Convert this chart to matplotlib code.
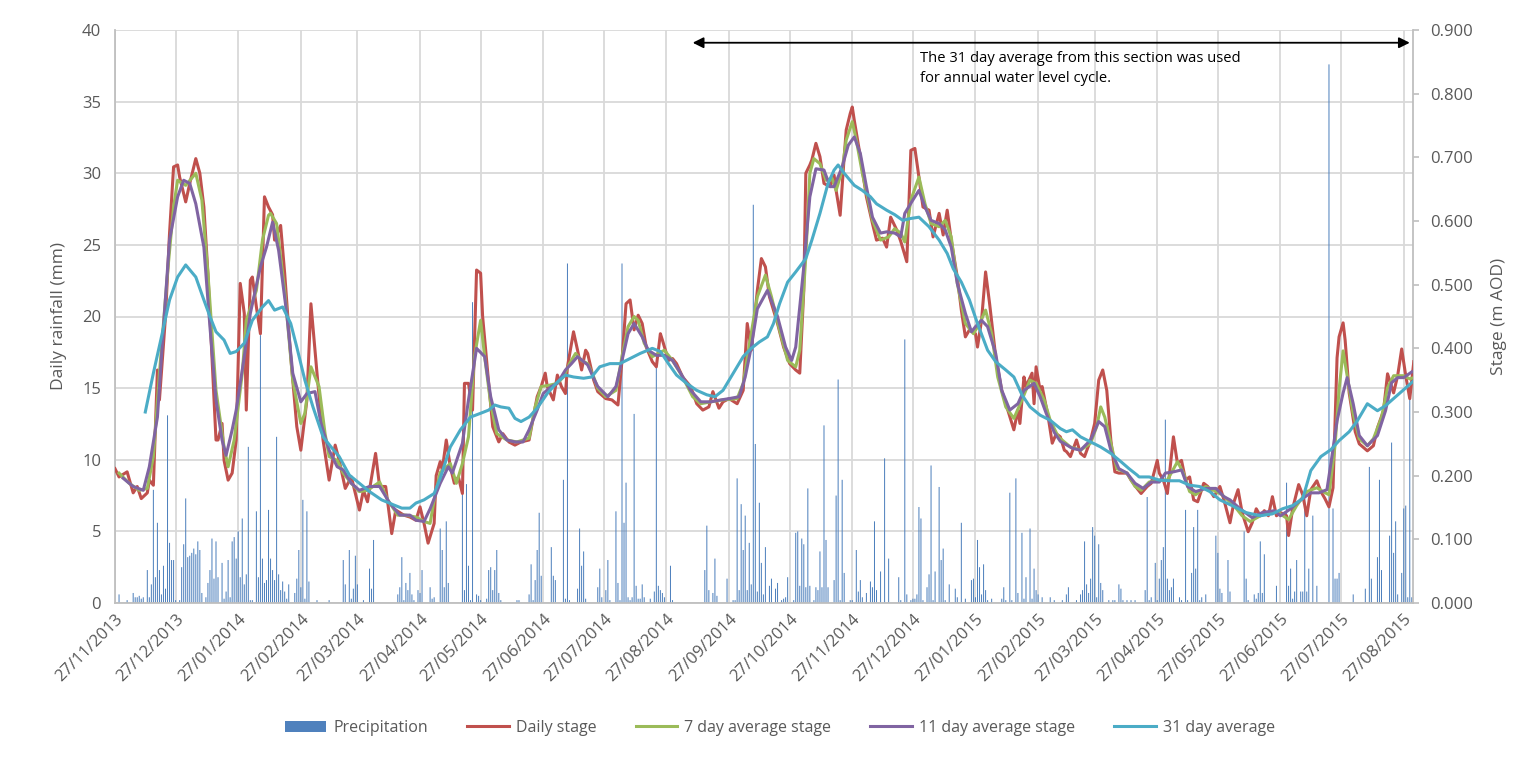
import pandas as pd
import matplotlib
matplotlib.use("Agg")
import matplotlib.pyplot as plt
import matplotlib.dates as mdates
from matplotlib.ticker import MultipleLocator, FormatStrFormatter
from matplotlib.patches import Patch
from matplotlib.lines import Line2D

plt.rcParams['font.family'] = ['Open Sans', 'DejaVu Sans']

start = pd.Timestamp("2013-11-27")

# daily rainfall: day number counted from 27/11/2013, rainfall in mm
rain_day = [2, 6, 9, 10, 11, 12, 13, 14, 16, 17, 18, 19, 20, 21, 22, 23, 24, 25, 26, 27, 28, 29, 30, 32, 33, 34,
            35, 36, 37, 38, 39, 40, 41, 42, 43, 45, 46, 47, 48, 49, 50, 51, 53, 54, 55, 56, 57, 58, 59, 60, 61, 62,
            63, 64, 65, 66, 67, 68, 70, 71, 72, 73, 74, 75, 76, 77, 78, 79, 80, 81, 82, 83, 84, 85, 86, 89, 90, 91,
            92, 93, 94, 95, 96, 100, 106, 113, 114, 116, 117, 118, 119, 120, 123, 126, 127, 128, 140, 141, 142, 143,
            144, 145, 146, 147, 148, 150, 151, 152, 156, 157, 158, 161, 162, 163, 164, 165, 172, 173, 174, 175, 176,
            177, 179, 180, 181, 184, 185, 186, 187, 188, 189, 190, 191, 199, 200, 205, 206, 207, 208, 209, 210, 211,
            216, 217, 218, 222, 223, 224, 225, 229, 230, 231, 232, 233, 239, 240, 241, 243, 244, 245, 248, 249, 250,
            251, 252, 253, 254, 255, 256, 257, 258, 259, 260, 261, 262, 265, 267, 268, 269, 270, 271, 272, 275, 276,
            292, 293, 294, 296, 297, 298, 303, 306, 307, 308, 309, 310, 311, 312, 313, 314, 315, 316, 317, 318, 319,
            320, 321, 322, 324, 325, 327, 328, 330, 331, 332, 333, 336, 337, 338, 339, 340, 341, 342, 343, 344, 346,
            347, 348, 349, 350, 351, 352, 353, 356, 357, 358, 359, 360, 361, 364, 365, 367, 368, 369, 370, 372, 374,
            375, 376, 377, 379, 381, 383, 388, 389, 391, 392, 394, 395, 396, 397, 398, 399, 400, 402, 403, 404, 405,
            406, 408, 409, 410, 411, 413, 416, 417, 419, 421, 424, 425, 426, 427, 428, 429, 430, 431, 432, 434, 439,
            440, 441, 443, 444, 446, 447, 449, 450, 451, 453, 454, 455, 456, 457, 459, 463, 465, 469, 471, 472, 476,
            478, 479, 480, 481, 482, 483, 484, 485, 486, 487, 488, 489, 492, 494, 495, 497, 498, 499, 501, 503, 505,
            510, 511, 512, 513, 515, 516, 517, 518, 519, 520, 521, 522, 523, 524, 527, 528, 530, 531, 533, 534, 535,
            536, 537, 538, 540, 545, 546, 547, 548, 551, 552, 559, 560, 561, 564, 565, 566, 567, 568, 569, 575, 580,
            581, 582, 583, 584, 585, 587, 588, 589, 590, 591, 593, 595, 601, 603, 604, 605, 606, 613, 619, 621, 622,
            625, 626, 627, 631, 632, 633, 634, 635, 637, 638, 639, 640, 641, 642]
rain_mm = [0.6, 0.2, 0.7, 0.4, 0.4, 0.5, 0.3, 0.4, 2.3, 0.4, 1.3, 7.9, 1.8, 5.6, 2.3, 0.6, 2.6, 1.0, 13.1, 4.2, 3.0,
           3.0, 0.2, 0.2, 2.5, 4.1, 7.3, 3.2, 3.3, 3.5, 3.8, 3.4, 4.3, 3.7, 0.7, 0.4, 1.4, 2.3, 4.5, 1.7, 4.3, 1.8,
           2.8, 0.3, 0.8, 3.0, 0.4, 4.3, 4.6, 3.1, 5.0, 1.8, 5.9, 1.3, 2.0, 10.9, 0.2, 0.2, 6.4, 1.8, 18.7, 3.1, 1.4,
           1.6, 6.5, 3.1, 2.3, 1.6, 11.6, 2.0, 0.9, 1.5, 0.8, 0.3, 1.3, 0.7, 1.7, 3.7, 1.1, 7.2, 0.3, 6.4, 1.5, 0.2,
           0.2, 3.0, 1.3, 3.7, 0.3, 1.0, 3.3, 1.3, 0.2, 2.4, 1.0, 4.4, 0.6, 1.1, 3.2, 0.2, 1.4, 0.9, 2.1, 0.6, 0.2,
           0.9, 0.7, 2.3, 1.1, 0.3, 0.4, 5.2, 3.7, 1.1, 5.7, 1.4, 7.7, 0.9, 8.3, 2.6, 0.2, 21.0, 0.6, 0.5, 0.2, 0.3,
           2.3, 2.5, 0.9, 2.3, 3.7, 0.7, 0.2, 0.2, 0.2, 0.6, 2.7, 0.2, 1.6, 3.7, 6.3, 1.9, 3.9, 1.9, 1.6, 8.6, 0.3,
           23.7, 0.2, 1.0, 5.2, 2.6, 3.6, 0.3, 1.1, 2.4, 0.4, 0.9, 3.0, 0.2, 6.4, 1.4, 0.2, 23.7, 5.6, 8.4, 0.4, 0.2,
           0.4, 13.2, 1.2, 0.3, 0.3, 1.3, 0.4, 0.3, 0.8, 16.5, 1.2, 0.9, 0.7, 0.4, 2.6, 0.2, 2.3, 5.4, 0.9, 0.7, 3.1,
           0.5, 1.7, 0.2, 0.2, 8.7, 0.9, 6.9, 3.7, 6.1, 0.9, 4.2, 1.3, 27.8, 11.1, 0.8, 7.0, 2.8, 0.6, 3.9, 1.2, 1.7,
           1.0, 1.4, 0.2, 0.3, 0.4, 1.8, 0.2, 4.9, 5.0, 1.2, 4.5, 4.1, 1.1, 8.0, 1.2, 0.2, 1.1, 0.9, 3.6, 1.1, 12.4,
           4.4, 1.1, 1.6, 7.5, 15.6, 0.2, 8.6, 2.1, 0.2, 0.2, 3.7, 0.8, 1.6, 0.4, 0.7, 1.5, 1.1, 5.7, 0.9, 2.2, 10.1,
           3.1, 1.8, 0.2, 18.4, 0.6, 0.2, 0.3, 0.3, 0.6, 6.7, 5.9, 0.2, 1.1, 2.0, 9.6, 0.2, 2.2, 8.1, 3.0, 3.8, 0.2,
           1.3, 1.0, 0.4, 5.6, 0.3, 1.6, 1.7, 0.4, 4.4, 2.5, 0.6, 2.7, 0.9, 0.2, 0.3, 0.3, 1.1, 0.2, 7.7, 0.2, 8.7,
           0.7, 4.9, 0.3, 1.8, 5.2, 0.3, 2.4, 0.9, 0.6, 0.4, 0.4, 0.2, 0.2, 0.6, 1.1, 0.2, 0.6, 0.9, 4.3, 1.3, 0.7,
           1.7, 5.3, 4.7, 0.4, 4.1, 1.4, 0.9, 0.2, 0.2, 0.2, 1.3, 1.0, 0.2, 0.2, 0.2, 0.2, 0.9, 7.4, 0.2, 0.4, 2.8,
           0.2, 1.7, 3.0, 3.9, 12.8, 1.7, 0.9, 1.1, 1.7, 0.4, 0.2, 6.5, 0.2, 2.1, 5.3, 2.4, 6.5, 0.2, 0.4, 0.6, 4.7,
           3.5, 1.0, 0.7, 3.0, 0.8, 5.0, 1.7, 0.2, 0.6, 0.3, 0.7, 4.3, 0.7, 3.4, 1.2, 8.4, 1.2, 2.4, 0.3, 0.8, 3.0,
           0.8, 0.8, 7.4, 0.8, 2.4, 6.1, 1.2, 37.6, 6.6, 1.7, 1.7, 2.1, 0.6, 1.0, 9.5, 1.7, 3.2, 8.6, 2.3, 4.7, 11.2,
           3.5, 5.7, 0.6, 2.1, 6.6, 6.8, 0.4, 14.4, 0.4]

# daily stage (m AOD)
stage_day = [0, 2, 6, 9, 11, 13, 16, 17, 19, 21, 22, 25, 27, 29, 31, 32, 35, 37, 40, 42, 44, 46, 48, 50, 51, 53, 54,
             56, 58, 60, 62, 64, 65, 67, 68, 70, 72, 74, 76, 78, 79, 82, 84, 87, 90, 92, 95, 97, 100, 103, 106, 109,
             111, 114, 117, 121, 123, 125, 129, 131, 134, 137, 139, 143, 146, 149, 151, 153, 155, 158, 159, 161, 162,
             164, 166, 168, 170, 172, 173, 175, 177, 179, 181, 182, 185, 187, 190, 192, 195, 198, 201, 205, 209, 211,
             213, 214, 217, 219, 221, 223, 224, 227, 229, 231, 233, 234, 237, 239, 243, 246, 249, 251, 253, 255, 257,
             259, 261, 263, 266, 268, 270, 271, 274, 276, 278, 281, 285, 288, 291, 294, 296, 299, 301, 304, 308, 311,
             313, 315, 318, 320, 322, 324, 328, 331, 334, 337, 339, 341, 342, 344, 345, 347, 349, 351, 354, 356, 357,
             359, 361, 362, 364, 365, 366, 369, 372, 375, 377, 380, 382, 384, 387, 389, 392, 394, 396, 398, 400, 403,
             405, 408, 410, 412, 414, 417, 419, 421, 423, 426, 427, 429, 431, 433, 436, 439, 442, 445, 447, 448, 450,
             451, 454, 455, 456, 458, 459, 462, 464, 466, 468, 470, 471, 473, 476, 478, 480, 483, 485, 487, 489, 491,
             493, 495, 497, 501, 503, 506, 508, 511, 513, 516, 517, 519, 521, 524, 526, 528, 530, 532, 534, 536, 539,
             541, 544, 547, 549, 552, 554, 556, 558, 561, 563, 565, 567, 569, 571, 573, 575, 577, 580, 581, 583, 586,
             588, 590, 592, 595, 597, 599, 601, 603, 605, 606, 608, 609, 611, 614, 616, 620, 623, 625, 628, 630, 633,
             635, 637, 639, 641, 643]
stage = [0.211, 0.198, 0.206, 0.173, 0.183, 0.164, 0.173, 0.193, 0.185, 0.366, 0.319, 0.45, 0.581, 0.685, 0.688,
         0.669, 0.63, 0.659, 0.698, 0.675, 0.622, 0.518, 0.387, 0.256, 0.256, 0.282, 0.224, 0.193, 0.204, 0.256,
         0.502, 0.455, 0.303, 0.507, 0.512, 0.465, 0.423, 0.638, 0.622, 0.61, 0.57, 0.593, 0.518, 0.387, 0.277, 0.24,
         0.319, 0.47, 0.361, 0.256, 0.193, 0.248, 0.224, 0.18, 0.198, 0.146, 0.177, 0.159, 0.235, 0.183, 0.183,
         0.109, 0.146, 0.138, 0.135, 0.13, 0.151, 0.125, 0.094, 0.125, 0.2, 0.222, 0.209, 0.256, 0.214, 0.188, 0.198,
         0.172, 0.345, 0.345, 0.303, 0.523, 0.518, 0.45, 0.345, 0.277, 0.253, 0.266, 0.253, 0.248, 0.253, 0.256,
         0.324, 0.34, 0.361, 0.34, 0.319, 0.358, 0.34, 0.329, 0.371, 0.426, 0.397, 0.366, 0.397, 0.392, 0.35, 0.332,
         0.321, 0.319, 0.311, 0.381, 0.47, 0.476, 0.429, 0.452, 0.439, 0.402, 0.379, 0.371, 0.423, 0.413, 0.381,
         0.384, 0.376, 0.355, 0.34, 0.313, 0.303, 0.308, 0.332, 0.306, 0.316, 0.321, 0.313, 0.334, 0.439, 0.397,
         0.491, 0.541, 0.528, 0.481, 0.439, 0.402, 0.376, 0.366, 0.361, 0.491, 0.675, 0.688, 0.696, 0.722, 0.701,
         0.659, 0.654, 0.672, 0.648, 0.609, 0.701, 0.743, 0.769, 0.779, 0.758, 0.701, 0.638, 0.596, 0.57, 0.573,
         0.559, 0.606, 0.586, 0.568, 0.536, 0.711, 0.714, 0.669, 0.622, 0.617, 0.575, 0.612, 0.578, 0.617, 0.57,
         0.512, 0.46, 0.418, 0.429, 0.423, 0.402, 0.444, 0.52, 0.47, 0.387, 0.334, 0.303, 0.272, 0.303, 0.282, 0.355,
         0.34, 0.361, 0.313, 0.371, 0.334, 0.34, 0.292, 0.251, 0.266, 0.261, 0.24, 0.238, 0.23, 0.256, 0.235, 0.23,
         0.256, 0.282, 0.35, 0.366, 0.334, 0.256, 0.206, 0.204, 0.204, 0.193, 0.18, 0.172, 0.183, 0.188, 0.224,
         0.204, 0.193, 0.172, 0.261, 0.219, 0.224, 0.193, 0.198, 0.162, 0.159, 0.188, 0.183, 0.167, 0.183, 0.162,
         0.126, 0.159, 0.178, 0.142, 0.112, 0.126, 0.148, 0.137, 0.145, 0.137, 0.167, 0.137, 0.142, 0.137, 0.106,
         0.148, 0.186, 0.17, 0.137, 0.178, 0.192, 0.175, 0.164, 0.151, 0.181, 0.385, 0.418, 0.44, 0.413, 0.33, 0.269,
         0.25, 0.239, 0.247, 0.275, 0.302, 0.36, 0.33, 0.357, 0.399, 0.357, 0.321, 0.379]

# 7 day average stage
avg7_day = [2, 7, 12, 16, 19, 22, 26, 29, 31, 35, 40, 43, 46, 50, 54, 56, 59, 63, 65, 70, 73, 76, 77, 80, 84, 88, 92,
            94, 97, 101, 104, 106, 110, 113, 117, 121, 125, 131, 135, 140, 144, 149, 153, 156, 158, 161, 166, 169,
            172, 175, 178, 181, 183, 186, 189, 194, 199, 205, 208, 211, 215, 219, 222, 225, 228, 231, 234, 237, 239,
            243, 248, 251, 254, 257, 259, 262, 266, 269, 272, 276, 281, 286, 290, 295, 301, 308, 311, 314, 318, 322,
            325, 329, 333, 337, 339, 342, 344, 346, 349, 352, 355, 357, 360, 362, 365, 367, 370, 375, 379, 383, 386,
            389, 391, 394, 398, 401, 404, 408, 411, 414, 417, 421, 425, 428, 431, 434, 437, 441, 445, 449, 453, 456,
            460, 463, 467, 473, 478, 483, 486, 488, 490, 493, 496, 501, 505, 508, 512, 517, 521, 526, 529, 532, 535,
            540, 544, 548, 554, 558, 562, 567, 571, 576, 581, 585, 590, 595, 598, 601, 604, 606, 608, 610, 613, 616,
            620, 623, 627, 630, 633, 638, 641, 643]
avg7 = [0.204, 0.188, 0.177, 0.18, 0.23, 0.361, 0.518, 0.622, 0.664, 0.656, 0.675, 0.633, 0.518, 0.334, 0.245, 0.214,
        0.256, 0.361, 0.444, 0.491, 0.57, 0.609, 0.612, 0.596, 0.491, 0.35, 0.282, 0.298, 0.371, 0.34, 0.266, 0.23,
        0.224, 0.204, 0.188, 0.175, 0.177, 0.19, 0.162, 0.138, 0.138, 0.135, 0.128, 0.125, 0.162, 0.205, 0.219,
        0.188, 0.219, 0.261, 0.387, 0.444, 0.387, 0.313, 0.266, 0.256, 0.253, 0.259, 0.308, 0.34, 0.342, 0.345,
        0.355, 0.376, 0.392, 0.381, 0.376, 0.355, 0.337, 0.324, 0.334, 0.387, 0.434, 0.45, 0.444, 0.408, 0.387,
        0.392, 0.397, 0.381, 0.355, 0.324, 0.313, 0.316, 0.319, 0.321, 0.345, 0.405, 0.481, 0.515, 0.481, 0.429,
        0.381, 0.371, 0.397, 0.544, 0.675, 0.698, 0.69, 0.664, 0.667, 0.648, 0.68, 0.727, 0.756, 0.727, 0.675,
        0.601, 0.57, 0.575, 0.588, 0.581, 0.567, 0.633, 0.669, 0.627, 0.596, 0.591, 0.601, 0.575, 0.502, 0.439,
        0.423, 0.439, 0.46, 0.423, 0.355, 0.308, 0.29, 0.319, 0.35, 0.345, 0.319, 0.287, 0.261, 0.245, 0.24, 0.251,
        0.277, 0.308, 0.292, 0.251, 0.211, 0.204, 0.183, 0.177, 0.19, 0.193, 0.193, 0.222, 0.204, 0.175, 0.17,
        0.183, 0.177, 0.17, 0.153, 0.137, 0.128, 0.137, 0.142, 0.142, 0.131, 0.153, 0.175, 0.181, 0.175, 0.17,
        0.247, 0.335, 0.396, 0.357, 0.297, 0.258, 0.247, 0.258, 0.291, 0.338, 0.357, 0.357, 0.352, 0.354]

# 11 day average stage
avg11_day = [4, 9, 14, 17, 21, 24, 27, 31, 34, 37, 40, 44, 47, 50, 53, 55, 58, 60, 64, 67, 72, 75, 78, 81, 85, 88,
             92, 95, 99, 102, 106, 110, 113, 117, 121, 126, 131, 136, 141, 146, 149, 153, 156, 161, 165, 167, 172,
             175, 179, 183, 186, 190, 194, 198, 202, 205, 209, 212, 216, 219, 223, 226, 229, 234, 237, 239, 244, 248,
             251, 254, 257, 261, 264, 268, 272, 276, 280, 285, 290, 295, 300, 304, 309, 312, 315, 318, 323, 328, 332,
             335, 337, 341, 344, 347, 351, 354, 356, 360, 363, 366, 369, 372, 375, 379, 382, 386, 389, 391, 395, 398,
             401, 404, 408, 411, 414, 417, 421, 424, 426, 429, 432, 436, 439, 443, 447, 450, 455, 458, 461, 465, 468,
             474, 478, 483, 487, 490, 493, 497, 501, 505, 509, 513, 517, 520, 524, 528, 531, 535, 540, 545, 549, 552,
             557, 563, 568, 574, 577, 582, 587, 592, 596, 600, 602, 605, 608, 610, 613, 616, 620, 625, 629, 632, 635,
             638, 642]
avg11 = [0.196, 0.183, 0.177, 0.214, 0.292, 0.434, 0.57, 0.638, 0.664, 0.659, 0.627, 0.559, 0.434, 0.319, 0.256,
         0.232, 0.272, 0.303, 0.387, 0.455, 0.528, 0.559, 0.598, 0.554, 0.455, 0.361, 0.316, 0.329, 0.332, 0.282,
         0.24, 0.214, 0.209, 0.188, 0.177, 0.183, 0.183, 0.157, 0.138, 0.138, 0.13, 0.128, 0.148, 0.188, 0.214,
         0.204, 0.251, 0.319, 0.4, 0.387, 0.324, 0.272, 0.256, 0.253, 0.253, 0.272, 0.303, 0.329, 0.34, 0.345,
         0.366, 0.376, 0.387, 0.374, 0.353, 0.34, 0.324, 0.34, 0.381, 0.423, 0.439, 0.418, 0.397, 0.389, 0.389,
         0.381, 0.361, 0.334, 0.316, 0.316, 0.319, 0.321, 0.324, 0.355, 0.402, 0.462, 0.491, 0.45, 0.402, 0.381,
         0.402, 0.528, 0.638, 0.682, 0.68, 0.654, 0.654, 0.685, 0.719, 0.732, 0.706, 0.654, 0.606, 0.581, 0.583,
         0.581, 0.575, 0.612, 0.633, 0.648, 0.622, 0.601, 0.596, 0.586, 0.559, 0.502, 0.455, 0.426, 0.434, 0.444,
         0.434, 0.392, 0.334, 0.303, 0.313, 0.334, 0.345, 0.324, 0.298, 0.268, 0.254, 0.243, 0.24, 0.256, 0.285,
         0.277, 0.24, 0.211, 0.204, 0.188, 0.18, 0.19, 0.19, 0.204, 0.206, 0.209, 0.183, 0.175, 0.18, 0.18, 0.167,
         0.162, 0.148, 0.134, 0.142, 0.145, 0.137, 0.148, 0.162, 0.173, 0.173, 0.178, 0.22, 0.286, 0.33, 0.354,
         0.313, 0.263, 0.247, 0.263, 0.302, 0.346, 0.354, 0.354, 0.363]

# 31 day average
avg31_day = [15, 19, 23, 27, 31, 35, 40, 44, 47, 50, 54, 57, 60, 64, 68, 73, 76, 79, 83, 87, 90, 94, 98, 103, 107,
             111, 116, 121, 126, 132, 138, 142, 146, 149, 153, 158, 161, 166, 171, 176, 181, 185, 188, 191, 195, 198,
             201, 205, 209, 214, 219, 223, 227, 232, 236, 240, 245, 250, 255, 260, 266, 270, 274, 278, 283, 288, 293,
             297, 301, 304, 308, 311, 315, 319, 323, 326, 329, 333, 337, 342, 345, 349, 353, 356, 358, 361, 366, 370,
             374, 377, 382, 386, 390, 394, 398, 403, 408, 412, 415, 419, 423, 427, 432, 436, 441, 445, 449, 453, 458,
             463, 468, 471, 474, 478, 483, 488, 493, 498, 502, 506, 507, 512, 517, 522, 527, 532, 537, 542, 547, 553,
             560, 567, 573, 578, 583, 588, 592, 597, 602, 606, 611, 615, 620, 625, 629, 634, 639, 643]
avg31 = [0.3, 0.361, 0.418, 0.476, 0.512, 0.531, 0.512, 0.476, 0.45, 0.426, 0.413, 0.392, 0.395, 0.408, 0.444, 0.465,
         0.475, 0.46, 0.465, 0.439, 0.402, 0.35, 0.308, 0.261, 0.245, 0.23, 0.201, 0.188, 0.175, 0.162, 0.154, 0.149,
         0.149, 0.157, 0.162, 0.172, 0.196, 0.245, 0.272, 0.292, 0.298, 0.303, 0.311, 0.308, 0.306, 0.29, 0.285,
         0.292, 0.306, 0.329, 0.347, 0.358, 0.355, 0.353, 0.355, 0.371, 0.376, 0.376, 0.384, 0.392, 0.4, 0.395,
         0.376, 0.358, 0.345, 0.334, 0.327, 0.324, 0.334, 0.35, 0.371, 0.387, 0.4, 0.41, 0.418, 0.439, 0.47, 0.504,
         0.52, 0.541, 0.57, 0.612, 0.659, 0.68, 0.688, 0.675, 0.656, 0.648, 0.638, 0.627, 0.617, 0.61, 0.601, 0.604,
         0.606, 0.591, 0.57, 0.549, 0.525, 0.504, 0.476, 0.439, 0.397, 0.379, 0.366, 0.355, 0.327, 0.308, 0.295,
         0.287, 0.274, 0.269, 0.272, 0.261, 0.253, 0.245, 0.235, 0.222, 0.211, 0.201, 0.198, 0.198, 0.193, 0.192,
         0.192, 0.185, 0.183, 0.175, 0.162, 0.153, 0.142, 0.137, 0.14, 0.148, 0.153, 0.164, 0.208, 0.23, 0.241,
         0.255, 0.269, 0.286, 0.313, 0.302, 0.31, 0.324, 0.338, 0.349]

note = "The 31 day average from this section was used\nfor annual water level cycle."


def to_dates(days):
    return start + pd.to_timedelta(days, unit="D")


grid_col = "#D9D9D9"
text_col = "#595959"

fig = plt.figure(figsize=(15.36, 7.58), dpi=100)
ax = fig.add_axes([115 / 1536, 155 / 758, 1298 / 1536, 573 / 758])

# rainfall bars on the left axis (thin, no pixel snapping so every day shows)
ax.bar(to_dates(rain_day), rain_mm, width=0.5, color="#4F81BD", linewidth=0, zorder=2, snap=False)
ax.set_ylim(0, 40)
ax.yaxis.set_major_locator(MultipleLocator(5))
ax.set_xlim(start, start + pd.Timedelta(days=642.6))

ticks = pd.date_range("2013-11-01", "2015-08-01", freq="MS") + pd.Timedelta(days=26)
ax.set_xticks(ticks)
ax.xaxis.set_major_formatter(mdates.DateFormatter("%d/%m/%Y"))
ax.grid(True, color=grid_col, linewidth=1.3, zorder=0)
ax.set_axisbelow(True)

ax.spines["top"].set_visible(False)
for side in ["left", "bottom", "right"]:
    ax.spines[side].set_color("#BFBFBF")
    ax.spines[side].set_linewidth(1.3)

ax.tick_params(axis="y", length=0, pad=10, labelsize=12, labelcolor=text_col)
ax.tick_params(axis="x", length=0, pad=6, labelsize=12, labelcolor=text_col)
for lab in ax.get_xticklabels():
    lab.set_rotation(45)
    lab.set_ha("right")
    lab.set_rotation_mode("anchor")

ax.set_ylabel("Daily rainfall (mm)", fontsize=12.5, color=text_col)
ax.yaxis.set_label_coords(-0.037, 0.5)

# stage lines on the right axis
ax2 = ax.twinx()
ax2.plot(to_dates(stage_day), stage, color="#C0504D", lw=2.2, zorder=3)
ax2.plot(to_dates(avg7_day), avg7, color="#9BBB59", lw=2.2, zorder=4)
ax2.plot(to_dates(avg11_day), avg11, color="#8064A2", lw=2.2, zorder=5)
ax2.plot(to_dates(avg31_day), avg31, color="#4BACC6", lw=2.2, zorder=6)
ax2.set_ylim(0, 0.9)
ax2.yaxis.set_major_locator(MultipleLocator(0.1))
ax2.yaxis.set_major_formatter(FormatStrFormatter("%.3f"))
for side in ax2.spines:
    ax2.spines[side].set_visible(False)
ax2.tick_params(axis="y", length=4, width=1.2, color="#BFBFBF", pad=8, labelsize=12, labelcolor=text_col)
ax2.set_ylabel("Stage (m AOD)", fontsize=12.5, color=text_col, rotation=90)
ax2.yaxis.set_label_coords(1.060, 0.5)

# section arrow and note
ax2.annotate("", xy=(pd.Timestamp("2015-08-30"), 0.88), xytext=(pd.Timestamp("2014-09-09"), 0.88),
             arrowprops=dict(arrowstyle="<|-|>", color="black", lw=1.3, mutation_scale=16,
                             shrinkA=0, shrinkB=0), zorder=8)
ax2.text(0.620, 0.963, note, transform=ax2.transAxes, fontsize=10.6, va="top", ha="left",
         linespacing=1.45, color="black")

handles = [
    Patch(facecolor="#4F81BD", edgecolor="none"),
    Line2D([], [], color="#C0504D", lw=2.2),
    Line2D([], [], color="#9BBB59", lw=2.2),
    Line2D([], [], color="#8064A2", lw=2.2),
    Line2D([], [], color="#4BACC6", lw=2.2),
]
labels = ["Precipitation", "Daily stage", "7 day average stage", "11 day average stage", "31 day average"]
fig.legend(handles, labels, loc="center", bbox_to_anchor=(780 / 1536, 1 - 728 / 758), ncol=5, frameon=False,
           fontsize=11.5, handlelength=2.6, handletextpad=0.45, columnspacing=2.45, labelcolor=text_col)

fig.savefig("out.png", dpi=100)
